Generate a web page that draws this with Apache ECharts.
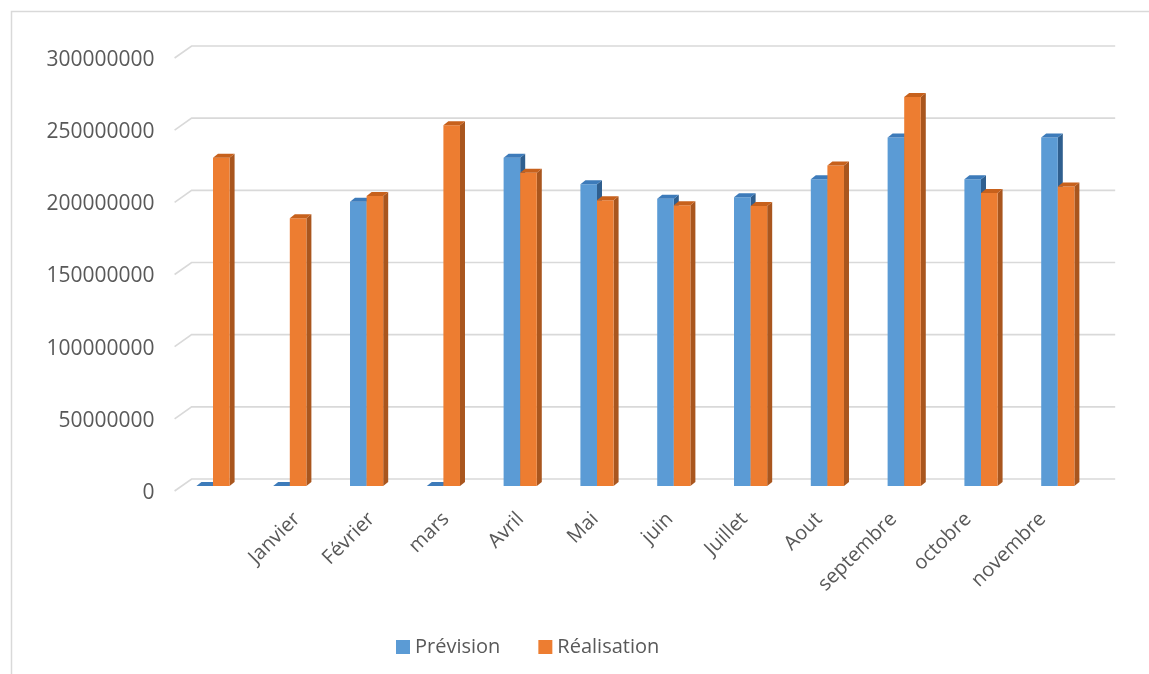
<!DOCTYPE html>
<html>
<head>
<meta charset="utf-8">
<script src="https://cdn.jsdelivr.net/npm/echarts@6/dist/echarts.min.js"></script>
<style>
  html, body { margin: 0; padding: 0; background: #ffffff; }
  #chart { width: 1149px; height: 674px; }
</style>
</head>
<body>
<div id="chart"></div>
<script>
// Monthly figures: forecast vs. actual
const categories = ['', 'Janvier', 'Février', 'mars', 'Avril', 'Mai', 'juin', 'Juillet', 'Aout', 'septembre', 'octobre', 'novembre'];
const prevision   = [0, 0, 197000000, 0, 227500000, 209000000, 199000000, 200000000, 212500000, 241500000, 212500000, 241500000];
const realisation = [227500000, 185500000, 201000000, 250000000, 217000000, 198000000, 194500000, 194000000, 222000000, 269500000, 203000000, 207500000];
const yTicks = [0, 50000000, 100000000, 150000000, 200000000, 250000000, 300000000];
const seriesNames = ['Prévision', 'Réalisation'];

const FONT = '"Open Sans", "Liberation Sans", sans-serif';
const TEXT_COLOR = '#595959';
const LINE_COLOR = '#d9d9d9';

// oblique "3D" look: depth of each column and of the side wall
const BAR_DX = 5, BAR_DY = 4;
const WALL_DX = 17, WALL_BACK_DY = -7, WALL_FRONT_DY = 5;
const BAR_RATIO = 0.216;

const palette = {
  blue:   { front: '#5B9BD5', top: '#3D7BBA', side: '#2F5F8F' },
  orange: { front: '#ED7D31', top: '#C7611C', side: '#A9561E' }
};

function barRenderer(side, colors) {
  return function (params, api) {
    const i = api.value(0);
    const v = api.value(1);
    const base = api.coord([i, 0]);
    const top = api.coord([i, v]);
    const band = api.size([1, 0])[0];
    const w = band * BAR_RATIO;
    const x0 = side < 0 ? base[0] - w : base[0];
    const x1 = x0 + w;
    const yb = base[1], yt = top[1];
    return {
      type: 'group',
      children: [
        { type: 'polygon', shape: { points: [[x1, yt], [x1 + BAR_DX, yt - BAR_DY], [x1 + BAR_DX, yb - BAR_DY], [x1, yb]] },
          style: { fill: colors.side } },
        { type: 'rect', shape: { x: x0, y: yt, width: w, height: yb - yt }, style: { fill: colors.front } },
        { type: 'polygon', shape: { points: [[x0, yt], [x0 + BAR_DX, yt - BAR_DY], [x1 + BAR_DX, yt - BAR_DY], [x1, yt]] },
          style: { fill: colors.top } }
      ]
    };
  };
}

// gridlines on the back wall, with the short slanted segment on the side wall
function wallRenderer(params, api) {
  const cs = params.coordSys;
  const y = api.coord([0, api.value(1)])[1];
  return {
    type: 'polyline',
    shape: { points: [
      [cs.x, y + WALL_FRONT_DY],
      [cs.x + WALL_DX, y + WALL_BACK_DY],
      [cs.x + cs.width + WALL_DX + 2, y + WALL_BACK_DY]
    ] },
    style: { stroke: LINE_COLOR, lineWidth: 1.6, fill: null }
  };
}

const chart = echarts.init(document.getElementById('chart'), null, { renderer: 'canvas' });

chart.setOption({
  animation: false,
  backgroundColor: '#ffffff',
  textStyle: { fontFamily: FONT },
  graphic: [{
    type: 'rect',
    shape: { x: 11.5, y: 11.5, width: 1300, height: 800 },
    style: { fill: null, stroke: LINE_COLOR, lineWidth: 1.5 },
    silent: true
  }],
  legend: {
    data: seriesNames,
    left: 391,
    top: 632,
    icon: 'rect',
    itemWidth: 14,
    itemHeight: 14,
    itemGap: 38,
    textStyle: { fontFamily: FONT, fontSize: 20, color: TEXT_COLOR }
  },
  grid: [
    { left: 174.6, right: 52.8, top: 53, bottom: 188 },
    { left: 185, right: 69, top: 53, bottom: 188 }
  ],
  xAxis: [
    { type: 'category', gridIndex: 0, data: categories,
      axisLine: { show: false }, axisTick: { show: false }, axisLabel: { show: false }, splitLine: { show: false } },
    { type: 'category', gridIndex: 1, data: categories,
      axisLine: { show: false }, axisTick: { show: false }, splitLine: { show: false },
      axisLabel: { interval: 0, rotate: 45, margin: 30, fontFamily: FONT, fontSize: 20, color: TEXT_COLOR } }
  ],
  yAxis: [
    { type: 'value', gridIndex: 0, min: 0, max: 300000000, interval: 50000000,
      axisLine: { show: false }, axisTick: { show: false }, splitLine: { show: false },
      axisLabel: { margin: 20, fontFamily: FONT, fontSize: 21, color: TEXT_COLOR,
        verticalAlign: 'top', lineHeight: 14,
        formatter: function (v) { return String(v); } } },
    { type: 'value', gridIndex: 1, show: false, min: 0, max: 300000000 }
  ],
  series: [
    { type: 'custom', name: 'wall', xAxisIndex: 0, yAxisIndex: 0, z: 1, silent: true,
      renderItem: wallRenderer, encode: { x: 0, y: 1 },
      data: yTicks.map(function (v) { return [0, v]; }) },
    { type: 'custom', name: seriesNames[0], xAxisIndex: 0, yAxisIndex: 0, z: 2,
      itemStyle: { color: palette.blue.front },
      renderItem: barRenderer(-1, palette.blue), encode: { x: 0, y: 1 },
      data: prevision.map(function (v, i) { return [i, v]; }) },
    { type: 'custom', name: seriesNames[1], xAxisIndex: 0, yAxisIndex: 0, z: 3,
      itemStyle: { color: palette.orange.front },
      renderItem: barRenderer(1, palette.orange), encode: { x: 0, y: 1 },
      data: realisation.map(function (v, i) { return [i, v]; }) }
  ]
});
</script>
</body>
</html>
